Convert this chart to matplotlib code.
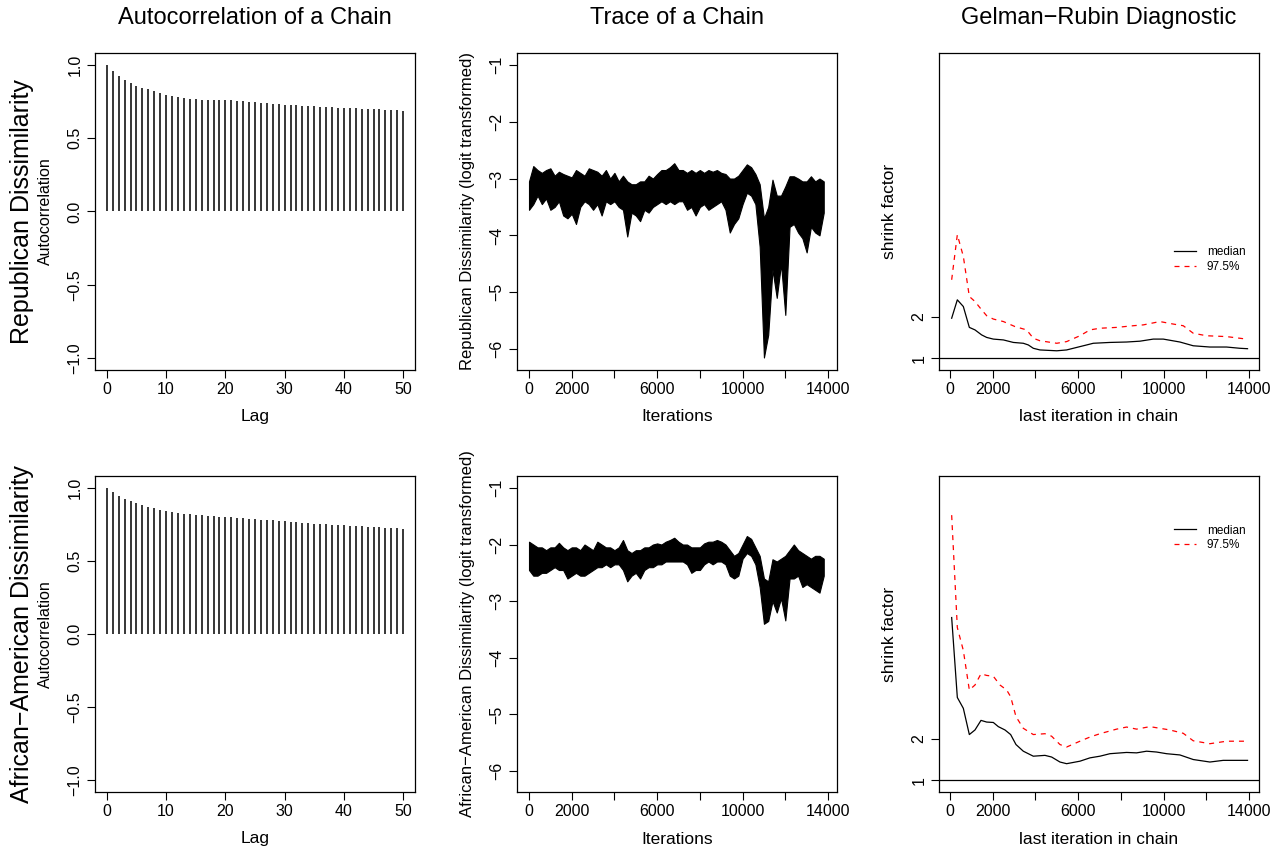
import numpy as np
import matplotlib
matplotlib.use('Agg')
import matplotlib.pyplot as plt

plt.rcParams['font.family'] = ['Liberation Sans', 'DejaVu Sans']

# autocorrelation (lags 0..50)
lags = list(range(51))
acf_rep = [1.0, 0.955, 0.92, 0.893, 0.873, 0.857, 0.843, 0.834, 0.818, 0.805,
           0.795, 0.784, 0.777, 0.773, 0.768, 0.766, 0.763, 0.762, 0.761, 0.760,
           0.759, 0.757, 0.755, 0.752, 0.749, 0.745, 0.741, 0.737, 0.733, 0.730,
           0.727, 0.725, 0.723, 0.721, 0.719, 0.716, 0.714, 0.712, 0.710, 0.708,
           0.706, 0.704, 0.702, 0.700, 0.699, 0.698, 0.697, 0.695, 0.693, 0.690, 0.688]
acf_afr = [1.0, 0.97, 0.943, 0.925, 0.909, 0.896, 0.88, 0.866, 0.859, 0.848,
           0.841, 0.834, 0.828, 0.823, 0.819, 0.814, 0.811, 0.808, 0.805, 0.802,
           0.800, 0.797, 0.794, 0.791, 0.788, 0.785, 0.782, 0.779, 0.776, 0.773,
           0.770, 0.767, 0.764, 0.761, 0.758, 0.755, 0.752, 0.749, 0.746, 0.744,
           0.742, 0.740, 0.737, 0.735, 0.733, 0.731, 0.729, 0.727, 0.725, 0.723, 0.719]

# trace envelope (upper / lower edge of the chain per 200 iterations)
trace_iter = list(range(0, 14000, 200))
rep_hi = [-3.05, -2.78, -2.85, -2.90, -2.85, -2.82, -2.95, -2.88, -2.92, -2.95,
          -2.98, -2.85, -2.90, -2.95, -2.82, -2.85, -2.88, -2.95, -2.85, -3.00,
          -2.90, -3.05, -2.95, -3.05, -3.10, -3.10, -3.05, -3.05, -2.95, -3.00,
          -2.92, -2.85, -2.85, -2.80, -2.73, -2.85, -2.85, -2.90, -2.85, -2.90,
          -2.85, -2.90, -2.85, -2.88, -2.85, -2.90, -2.92, -3.00, -3.00, -2.95,
          -2.85, -2.75, -2.80, -2.92, -3.10, -3.70, -3.50, -3.02, -3.30, -3.30,
          -3.14, -2.96, -2.96, -3.00, -3.05, -3.05, -2.96, -3.05, -3.00, -3.05]
rep_lo = [-3.55, -3.45, -3.30, -3.45, -3.35, -3.55, -3.50, -3.40, -3.65, -3.70,
          -3.62, -3.80, -3.50, -3.40, -3.45, -3.55, -3.45, -3.65, -3.40, -3.45,
          -3.40, -3.50, -3.55, -4.02, -3.60, -3.65, -3.75, -3.55, -3.60, -3.50,
          -3.45, -3.40, -3.45, -3.40, -3.45, -3.40, -3.40, -3.55, -3.50, -3.65,
          -3.50, -3.45, -3.55, -3.50, -3.45, -3.40, -3.55, -3.95, -3.80, -3.70,
          -3.45, -3.25, -3.30, -3.45, -4.20, -6.15, -5.75, -4.60, -5.10, -4.50,
          -5.40, -3.85, -3.80, -3.95, -4.05, -4.30, -3.85, -3.95, -4.00, -3.60]
afr_hi = [-1.95, -2.00, -2.05, -2.05, -2.10, -2.05, -2.05, -1.97, -2.05, -2.10,
          -2.05, -2.05, -2.10, -2.00, -2.05, -2.10, -1.95, -2.00, -2.05, -2.05,
          -2.10, -2.05, -1.92, -2.10, -2.15, -2.10, -2.10, -2.05, -2.05, -2.00,
          -1.98, -2.00, -1.95, -1.92, -1.88, -1.95, -2.00, -2.00, -2.05, -2.05,
          -2.05, -1.98, -1.95, -1.95, -1.92, -1.95, -2.00, -2.10, -2.20, -2.15,
          -2.00, -1.85, -1.90, -2.05, -2.20, -2.60, -2.65, -2.26, -2.30, -2.25,
          -2.20, -2.10, -2.00, -2.10, -2.15, -2.20, -2.25, -2.20, -2.20, -2.25]
afr_lo = [-2.45, -2.55, -2.55, -2.50, -2.50, -2.45, -2.40, -2.45, -2.45, -2.60,
          -2.55, -2.50, -2.55, -2.55, -2.50, -2.45, -2.40, -2.40, -2.35, -2.40,
          -2.35, -2.35, -2.45, -2.65, -2.55, -2.50, -2.60, -2.45, -2.40, -2.40,
          -2.35, -2.35, -2.30, -2.30, -2.30, -2.30, -2.30, -2.35, -2.50, -2.45,
          -2.45, -2.35, -2.30, -2.35, -2.30, -2.30, -2.35, -2.55, -2.60, -2.55,
          -2.25, -2.15, -2.20, -2.35, -2.75, -3.40, -3.35, -3.00, -3.20, -2.95,
          -3.34, -2.60, -2.60, -2.55, -2.75, -2.70, -2.75, -2.80, -2.85, -2.55]

# Gelman-Rubin shrink factors
gr_rep_x = [78, 343, 624, 905, 1170, 1482, 1716, 2028, 2500, 2964, 3432, 3666,
            3900, 4212, 5000, 5460, 5928, 6400, 6708, 7488, 8268, 8892, 9516,
            9984, 10764, 11388, 12168, 12948, 13572, 13930]
gr_rep_med = [1.96, 2.40, 2.24, 1.74, 1.68, 1.56, 1.50, 1.46, 1.44, 1.38, 1.36, 1.32,
              1.24, 1.20, 1.18, 1.20, 1.26, 1.32, 1.36, 1.38, 1.39, 1.41, 1.46,
              1.46, 1.39, 1.30, 1.27, 1.27, 1.24, 1.23]
gr_rep_upx = [78, 343, 624, 905, 1170, 1482, 1716, 2028, 2500, 3042, 3588, 3900,
              4212, 5000, 5460, 6084, 6552, 7020, 7800, 8580, 9048, 9828, 10452,
              10920, 11388, 12012, 12948, 13884]
gr_rep_up = [2.88, 3.96, 3.44, 2.48, 2.36, 2.16, 2.02, 1.94, 1.88, 1.76, 1.68, 1.48,
             1.42, 1.36, 1.40, 1.54, 1.68, 1.72, 1.74, 1.78, 1.80, 1.88, 1.82,
             1.78, 1.60, 1.54, 1.52, 1.46]
gr_afr_x = [78, 343, 624, 905, 1170, 1451, 1716, 2028, 2262, 2574, 2839, 3089,
            3432, 3900, 4446, 4758, 5148, 5460, 6084, 6552, 7020, 7488, 8268,
            8736, 9204, 9672, 10140, 10764, 11388, 12168, 12792, 13930]
gr_afr_med = [4.91, 2.99, 2.73, 2.10, 2.21, 2.44, 2.40, 2.39, 2.29, 2.21, 2.10, 1.86,
              1.70, 1.58, 1.60, 1.56, 1.44, 1.40, 1.46, 1.54, 1.58, 1.64, 1.67,
              1.66, 1.70, 1.68, 1.64, 1.61, 1.50, 1.44, 1.48, 1.48]
gr_afr_upx = [78, 343, 624, 905, 1170, 1451, 1716, 2028, 2340, 2652, 2839, 3089,
              3432, 3900, 4446, 4758, 5148, 5460, 6084, 6552, 7020, 7800, 8268,
              8736, 9360, 9828, 10296, 10920, 11388, 12168, 12948, 13930]
gr_afr_up = [7.37, 4.67, 4.12, 3.17, 3.29, 3.56, 3.52, 3.50, 3.29, 3.17, 3.01, 2.53,
             2.25, 2.10, 2.12, 2.06, 1.86, 1.80, 1.94, 2.04, 2.12, 2.23, 2.28,
             2.23, 2.29, 2.25, 2.21, 2.13, 1.95, 1.88, 1.94, 1.94]

row_names = ['Republican Dissimilarity', 'African\u2212American Dissimilarity']
col_titles = ['Autocorrelation of a Chain', 'Trace of a Chain', 'Gelman\u2212Rubin Diagnostic']

W, H = 1282, 851
fig = plt.figure(figsize=(W / 100, H / 100), dpi=100)

lefts = [95, 517, 939]
tops = [53, 476]
bottoms = [370, 792]


def make_ax(col, row):
    l = lefts[col] / W
    b = 1 - bottoms[row] / H
    h = (bottoms[row] - tops[row]) / H
    ax = fig.add_axes([l, b, 320 / W, h])
    ax.tick_params(direction='out', length=6, width=0.8, labelsize=11.5, pad=3)
    for sp in ax.spines.values():
        sp.set_linewidth(0.9)
    return ax


def fix_y(ax):
    for lab in ax.get_yticklabels():
        lab.set_rotation(90)
        lab.set_va('center')


def xlab(ax, txt, row):
    ax.set_xlabel(txt, fontsize=12.5)
    h = bottoms[row] - tops[row]
    ax.xaxis.set_label_coords(0.5, -47 / h)
    ax.xaxis.label.set_va('center')


def ylab(ax, txt, size=12.5):
    ax.set_ylabel(txt, fontsize=size)
    ax.yaxis.set_label_coords(-0.155, 0.5)
    ax.yaxis.label.set_va('center')


acfs = [acf_rep, acf_afr]
traces = [(rep_hi, rep_lo), (afr_hi, afr_lo)]
grs = [(gr_rep_x, gr_rep_med, gr_rep_upx, gr_rep_up),
       (gr_afr_x, gr_afr_med, gr_afr_upx, gr_afr_up)]
trace_ylabels = ['Republican Dissimilarity (logit transformed)',
                 'African\u2212American Dissimilarity (logit transformed)']
leg_y = [0.425, 0.88]

for r in range(2):
    # ACF
    ax = make_ax(0, r)
    ax.vlines(lags, 0, acfs[r], color='black', lw=1.1)
    ax.set_xlim(-2, 52)
    ax.set_ylim(-1.08, 1.08)
    ax.set_xticks([0, 10, 20, 30, 40, 50])
    ax.set_yticks([-1.0, -0.5, 0.0, 0.5, 1.0])
    ax.set_yticklabels(['\u22121.0', '\u22120.5', '0.0', '0.5', '1.0'])
    fix_y(ax)
    xlab(ax, 'Lag', r)
    ylab(ax, 'Autocorrelation', 11.5)

    # trace
    ax = make_ax(1, r)
    hi, lo = traces[r]
    ax.fill_between(trace_iter, hi, lo, color='black', lw=0.8, edgecolor='black')
    ax.set_xlim(-562, 14421)
    ax.set_ylim(-6.37, -0.79)
    ax.set_xticks(range(0, 14001, 2000))
    ax.set_xticklabels(['0', '2000', '', '6000', '', '10000', '', '14000'])
    ax.set_yticks([-6, -5, -4, -3, -2, -1])
    ax.set_yticklabels(['\u22126', '\u22125', '\u22124', '\u22123', '\u22122', '\u22121'])
    fix_y(ax)
    xlab(ax, 'Iterations', r)
    ylab(ax, trace_ylabels[r], 12)

    # Gelman-Rubin
    ax = make_ax(2, r)
    gx, gmed, gux, gup = grs[r]
    ax.axhline(1, color='black', lw=0.9)
    ax.plot(gx, gmed, color='black', lw=0.9, label='median')
    ax.plot(gux, gup, color='red', lw=0.9, linestyle=(0, (4, 4)), label='97.5%')
    ax.set_xlim(-515, 14467)
    ax.set_ylim(0.72, 8.31)
    ax.set_xticks(range(0, 14001, 2000))
    ax.set_xticklabels(['0', '2000', '', '6000', '', '10000', '', '14000'])
    ax.set_yticks([1, 2])
    fix_y(ax)
    xlab(ax, 'last iteration in chain', r)
    ylab(ax, 'shrink factor', 12.5)
    ax.legend(loc='upper left', bbox_to_anchor=(0.70, leg_y[r]), frameon=False,
              fontsize=8.5, handlelength=1.9, handletextpad=0.9, labelspacing=0.25)

for c in range(3):
    fig.text((lefts[c] + 160) / W, 1 - 18 / H, col_titles[c], ha='center', va='center', fontsize=17)
for r in range(2):
    yc = 1 - (tops[r] + bottoms[r]) / 2 / H
    fig.text(22 / W, yc, row_names[r], rotation=90, ha='center', va='center', fontsize=18)

fig.savefig('out.png', dpi=100)
